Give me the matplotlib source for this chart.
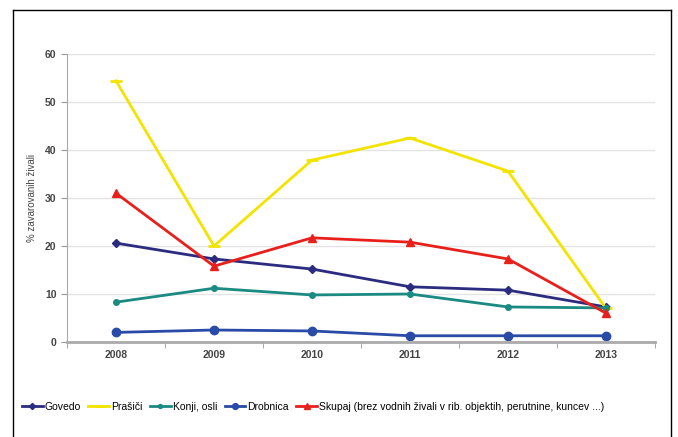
import numpy as np
import matplotlib
matplotlib.use('Agg')
import matplotlib.pyplot as plt
from matplotlib.lines import Line2D

plt.rcParams['font.family'] = ['Liberation Sans', 'DejaVu Sans']

years = ['2008', '2009', '2010', '2011', '2012', '2013']
govedo = [20.6, 17.3, 15.2, 11.5, 10.8, 7.3]
prasici = [54.4, 20.0, 37.9, 42.5, 35.6, 7.0]
konji = [8.3, 11.2, 9.8, 10.0, 7.3, 7.1]
drobnica = [2.0, 2.5, 2.3, 1.3, 1.3, 1.3]
skupaj = [31.0, 15.8, 21.7, 20.8, 17.3, 6.0]

fig = plt.figure(figsize=(6.78, 4.37), dpi=100)
ax = fig.add_axes([67/678, (437-342)/437, (655-67)/678, (342-54)/437])

x = np.arange(len(years))
ax.plot(x, govedo, color='#2b2b80', marker='D', ms=4.5, lw=2, label='Govedo')
ax.plot(x, prasici, color='#f2e400', marker='_', ms=9, mew=2, lw=2, label='Prašiči')
ax.plot(x, konji, color='#1a8a82', marker='o', ms=4, lw=2, label='Konji, osli')
ax.plot(x, drobnica, color='#2a4aa8', marker='o', ms=6, lw=2, label='Drobnica')
ax.plot(x, skupaj, color='#e8201c', marker='^', ms=5.5, lw=2,
        label='Skupaj (brez vodnih živali v rib. objektih, perutnine, kuncev ...)')

ax.set_xlim(-0.5, len(years) - 0.5)
ax.set_ylim(0, 60)
ax.set_yticks(range(0, 61, 10))
ax.set_xticks(x)
ax.set_xticklabels(years)
ax.set_xticks(np.arange(-0.5, len(years), 1), minor=True)
ax.tick_params(axis='x', which='major', length=0, pad=6)
ax.tick_params(axis='x', which='minor', length=4, color='#999999')
ax.tick_params(axis='y', length=4, color='#999999')
for lab in ax.get_xticklabels() + ax.get_yticklabels():
    lab.set_fontsize(7.5)
    lab.set_fontweight('bold')
    lab.set_color('#444444')
ax.grid(axis='y', color='#e4e4e4', lw=1)
ax.set_axisbelow(True)
for s in ['top', 'right']:
    ax.spines[s].set_visible(False)
ax.spines['left'].set_color('#aaaaaa')
ax.spines['bottom'].set_color('#aaaaaa')
ax.spines['bottom'].set_linewidth(2)
ax.set_ylabel('% zavarovanih živali', fontsize=7, color='#444444', labelpad=6)

fig.legend(loc='center', bbox_to_anchor=(0.462, (437-407)/437), ncol=5, frameon=False,
           fontsize=7.5, handlelength=2.0, handletextpad=0.2, columnspacing=0.7,
           markerscale=0.7)

# okvir
fig.add_artist(Line2D([13/678, 13/678], [0, 1-10/437], color='black', lw=1))
fig.add_artist(Line2D([13/678, 671/678], [1-10/437, 1-10/437], color='black', lw=1))
fig.add_artist(Line2D([671/678, 671/678], [0, 1-10/437], color='black', lw=1))

plt.savefig('out.png', dpi=100)
